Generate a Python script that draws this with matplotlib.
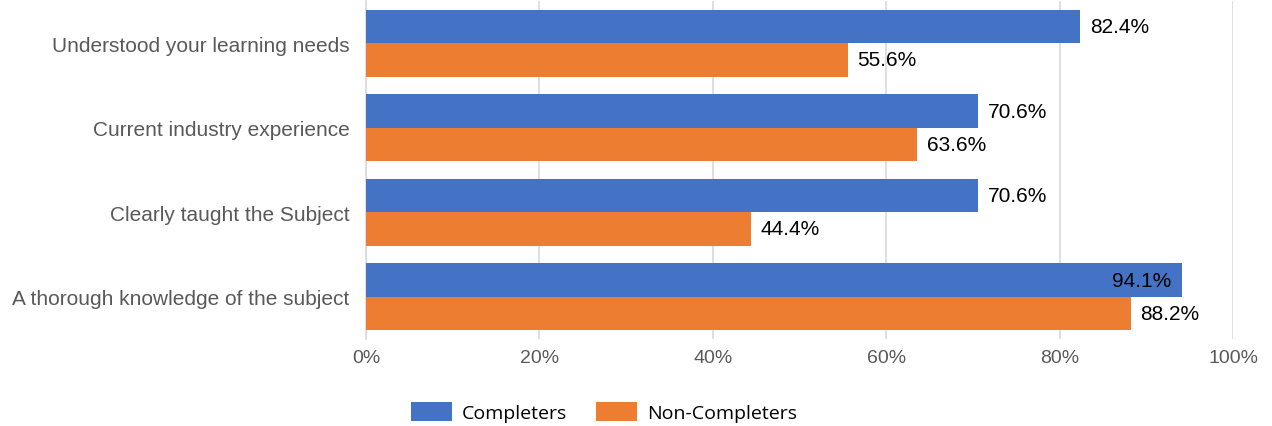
import matplotlib
matplotlib.use("Agg")
import matplotlib.pyplot as plt
from matplotlib.ticker import FuncFormatter
import numpy as np

# ----------------- Data -----------------
categories = [
    "Understood your learning needs",
    "Current industry experience",
    "Clearly taught the Subject",
    "A thorough knowledge of the subject",
]
completers = [82.4, 70.6, 70.6, 94.1]
non_completers = [55.6, 63.6, 44.4, 88.2]

BLUE = "#4472C4"
ORANGE = "#ED7D31"
GREY_TXT = "#595959"

plt.rcParams["font.family"] = ["Liberation Sans", "DejaVu Sans"]

fig = plt.figure(figsize=(12.72, 4.27), dpi=100)
ax = fig.add_axes([366 / 1272, 1 - 340 / 427, (1233 - 366) / 1272, 338 / 427])

y = np.arange(len(categories))
h = 0.395
b1 = ax.barh(y - h / 2, completers, height=h, color=BLUE, label="Completers", zorder=3)
b2 = ax.barh(y + h / 2, non_completers, height=h, color=ORANGE, label="Non-Completers", zorder=3)

# value labels: outside end, inside when the bar runs near the edge
for bars, vals in [(b1, completers), (b2, non_completers)]:
    for bar, v in zip(bars, vals):
        cy = bar.get_y() + bar.get_height() / 2
        if v > 90:
            ax.text(v - 1.2, cy, f"{v:.1f}%", ha="right", va="center", fontsize=15, color="black", zorder=4)
        else:
            ax.text(v + 1.1, cy, f"{v:.1f}%", ha="left", va="center", fontsize=15, color="black", zorder=4)

ax.set_xlim(0, 100)
ax.set_ylim(len(categories) - 0.5, -0.5)
ax.set_xticks(np.arange(0, 101, 20))
ax.xaxis.set_major_formatter(FuncFormatter(lambda v, p: f"{v:.0f}%"))
ax.set_yticks(y)
ax.set_yticklabels(categories)
ax.tick_params(axis="both", length=0, labelcolor=GREY_TXT)
ax.tick_params(axis="y", pad=12, labelsize=15)
ax.tick_params(axis="x", pad=7, labelsize=14)

ax.grid(axis="x", color="#D9D9D9", linewidth=1.2, zorder=0)
for s in ["top", "right", "bottom"]:
    ax.spines[s].set_visible(False)
ax.spines["left"].set_color("#D9D9D9")
ax.spines["left"].set_linewidth(1.2)

fig.legend(
    handles=[b1, b2],
    loc="center",
    bbox_to_anchor=(604 / 1272, 1 - 413 / 427),
    ncol=2,
    frameon=False,
    prop={"family": ["Open Sans", "DejaVu Sans"], "size": 14},
    handlelength=2.1,
    handleheight=1.1,
    handletextpad=0.5,
    columnspacing=1.5,
)

fig.savefig("out.png", dpi=100, facecolor="white")
